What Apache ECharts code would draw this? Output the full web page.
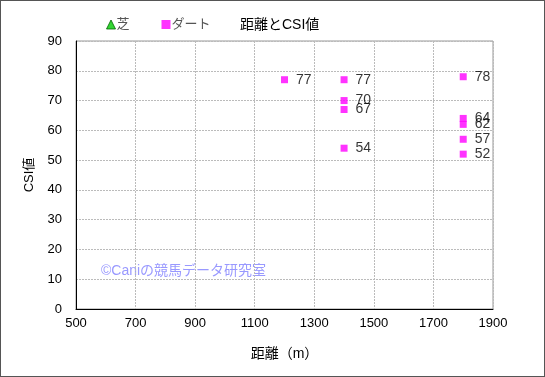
<!DOCTYPE html>
<html>
<head>
<meta charset="utf-8">
<script src="https://cdn.jsdelivr.net/npm/echarts@6/dist/echarts.min.js"></script>
<style>
  html, body { margin: 0; padding: 0; background: #fff; }
  #chart { width: 545px; height: 377px; box-sizing: border-box; border: 1px solid #555; }
</style>
</head>
<body>
<div id="chart"></div>
<script>
// 芝はデータなし（凡例のみ）
const turfPoints = []
// ダート: [距離, CSI値]
const dirtPoints = [
  [1200, 77],
  [1400, 77], [1400, 70], [1400, 67], [1400, 54],
  [1800, 78], [1800, 64], [1800, 62], [1800, 57], [1800, 52]
]
const xTicks = [500, 700, 900, 1100, 1300, 1500, 1700, 1900]
const yTicks = [0, 10, 20, 30, 40, 50, 60, 70, 80, 90]

const font = "'Liberation Sans', 'Noto Sans CJK JP', sans-serif"
const myChart = echarts.init(document.getElementById('chart'))

const option = {
  backgroundColor: '#fff',
  textStyle: { fontFamily: font },
  animation: false,
  title: {
    text: '距離とCSI値',
    left: 234,
    top: 12,
    textStyle: { fontSize: 14, fontWeight: 'normal', color: '#000', fontFamily: font }
  },
  legend: {
    left: 100,
    top: 12,
    itemGap: 32,
    itemWidth: 9,
    itemHeight: 9,
    textStyle: { fontSize: 13, color: '#555', fontFamily: font, padding: [0, 0, 0, -4] },
    data: [
      { name: '芝', icon: 'triangle', itemStyle: { color: '#00cc00', borderColor: '#006600', borderWidth: 1 } },
      { name: 'ダート', icon: 'rect', itemStyle: { color: '#ff00ff' } }
    ]
  },
  grid: { left: 75, right: 51, top: 40, bottom: 67, show: true, borderColor: '#999', borderWidth: 1 },
  xAxis: {
    type: 'value',
    min: xTicks[0],
    max: xTicks[xTicks.length - 1],
    interval: 200,
    name: '距離（m）',
    nameLocation: 'middle',
    nameGap: 38,
    nameTextStyle: { fontSize: 14, color: '#000', fontFamily: font },
    axisLine: { lineStyle: { color: '#000', width: 1 } },
    axisTick: { show: false },
    axisLabel: { fontSize: 13, color: '#000', margin: 8, formatter: v => String(v) },
    splitLine: { show: true, lineStyle: { color: '#bbb', type: [2, 1] } }
  },
  yAxis: {
    type: 'value',
    min: yTicks[0],
    max: yTicks[yTicks.length - 1],
    interval: 10,
    name: 'CSI値',
    nameLocation: 'middle',
    nameGap: 40,
    nameTextStyle: { fontSize: 13, color: '#000', fontFamily: font },
    axisLine: { show: true, lineStyle: { color: '#000', width: 1 } },
    axisTick: { show: false },
    axisLabel: { fontSize: 13, color: '#000', margin: 14 },
    splitLine: { show: true, lineStyle: { color: '#bbb', type: [2, 1] } }
  },
  graphic: [
    {
      type: 'text',
      left: 100,
      top: 263,
      style: { text: '©Caniの競馬データ研究室', fill: '#9999ff', fontSize: 14, fontFamily: font }
    }
  ],
  series: [
    {
      name: '芝',
      type: 'scatter',
      symbol: 'triangle',
      symbolSize: 8,
      itemStyle: { color: '#00cc00' },
      data: turfPoints
    },
    {
      name: 'ダート',
      type: 'scatter',
      symbol: 'rect',
      symbolSize: 7,
      itemStyle: { color: '#ff00ff' },
      label: {
        show: true,
        position: 'right',
        distance: 8,
        fontSize: 14,
        color: '#000',
        formatter: p => p.value[1]
      },
      data: dirtPoints
    }
  ]
}

myChart.setOption(option)
</script>
</body>
</html>
